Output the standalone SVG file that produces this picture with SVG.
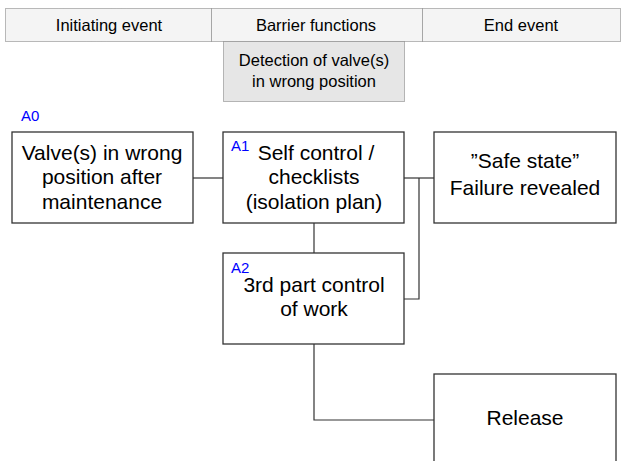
<svg xmlns="http://www.w3.org/2000/svg" width="622" height="461" viewBox="0 0 622 461">
  <style>
    .hdr { fill: #f4f4f4; stroke: #777; stroke-width: 1; stroke-dasharray: 1 1; }
    .sub { fill: #e6e6e6; stroke: #777; stroke-width: 1; stroke-dasharray: 1 1; }
    .box { fill: #ffffff; stroke: #333; stroke-width: 1.3; }
    .wire { fill: none; stroke: #333; stroke-width: 1.2; }
    .ht { font-family: "Liberation Sans", Arial, sans-serif; font-size: 16.5px; fill: #000; text-anchor: middle; }
    .bt { font-family: "Liberation Sans", Arial, sans-serif; font-size: 21px; fill: #000; text-anchor: middle; }
    .tag { font-family: "Liberation Sans", Arial, sans-serif; font-size: 15px; fill: #0000ff; }
  </style>

  <!-- column header bar -->
  <g id="header">
    <rect class="hdr" x="5.5" y="8.5" width="206" height="33"/>
    <rect class="hdr" x="211.5" y="8.5" width="211" height="33"/>
    <rect class="hdr" x="422.5" y="8.5" width="198" height="33"/>
    <text class="ht" x="109" y="31">Initiating event</text>
    <text class="ht" x="316" y="31">Barrier functions</text>
    <text class="ht" x="521" y="31">End event</text>
  </g>

  <g id="detection">
    <rect class="sub" x="223.5" y="41.5" width="181" height="60"/>
    <text class="ht" x="314" y="66">Detection of valve(s)</text>
    <text class="ht" x="314" y="87">in wrong position</text>
  </g>

  <!-- connectors -->
  <g id="connectors">
    <line class="wire" x1="193" y1="178" x2="223" y2="178"/>
    <line class="wire" x1="404" y1="178" x2="434" y2="178"/>
    <polyline class="wire" points="404,299 419,299 419,178"/>
    <line class="wire" x1="314" y1="223" x2="314" y2="253"/>
    <polyline class="wire" points="314,344 314,420 434,420"/>
  </g>

  <g id="A0">
    <text class="tag" x="21" y="121">A0</text>
    <rect class="box" x="12" y="132" width="181" height="91"/>
    <text class="bt" x="102" y="160">Valve(s) in wrong</text>
    <text class="bt" x="102" y="184">position after</text>
    <text class="bt" x="102" y="209">maintenance</text>
  </g>

  <g id="A1">
    <rect class="box" x="223" y="132" width="181" height="91"/>
    <text class="tag" x="231" y="151">A1</text>
    <text class="bt" x="316" y="160">Self control /</text>
    <text class="bt" x="314" y="184">checklists</text>
    <text class="bt" x="314" y="209">(isolation plan)</text>
  </g>

  <g id="safe-state">
    <rect class="box" x="434" y="132" width="182" height="91"/>
    <text class="bt" x="525" y="168">”Safe state”</text>
    <text class="bt" x="525" y="195">Failure revealed</text>
  </g>

  <g id="A2">
    <rect class="box" x="223" y="253" width="181" height="91"/>
    <text class="tag" x="231" y="273">A2</text>
    <text class="bt" x="314" y="292">3rd part control</text>
    <text class="bt" x="314" y="316">of work</text>
  </g>

  <g id="release">
    <rect class="box" x="434" y="374" width="182" height="100"/>
    <text class="bt" x="525" y="425">Release</text>
  </g>
</svg>
